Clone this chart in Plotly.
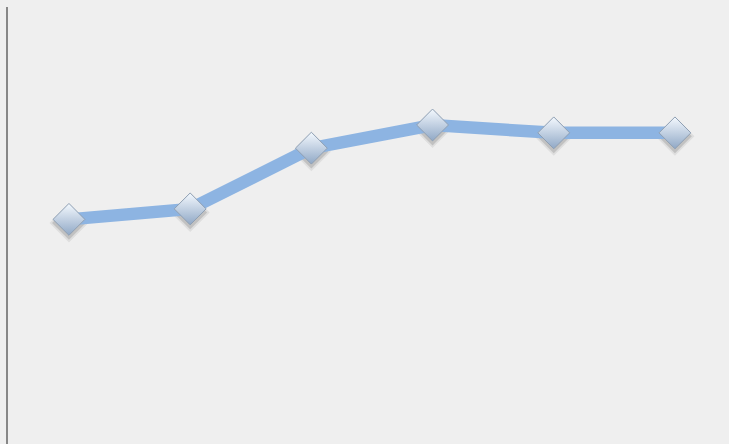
import plotly.graph_objects as go

categories = ["1", "2", "3", "4", "5", "6"]
values = [51.4, 53.8, 67.7, 73.0, 71.2, 71.2]

shadow_drop = 0.8  # shadow offset in data units (~3.5px)

fig = go.Figure()
# soft, blurred shadow below markers (two layers)
fig.add_trace(go.Scatter(
    x=categories, y=[v - shadow_drop for v in values], mode="markers",
    marker=dict(symbol="diamond", size=30, color="rgba(0,0,0,0.07)", line=dict(width=0)),
    hoverinfo="skip", showlegend=False,
))
fig.add_trace(go.Scatter(
    x=categories, y=[v - shadow_drop for v in values], mode="markers",
    marker=dict(symbol="diamond", size=26, color="rgba(0,0,0,0.13)", line=dict(width=0)),
    hoverinfo="skip", showlegend=False,
))
fig.add_trace(go.Scatter(
    x=categories, y=values, mode="lines",
    line=dict(color="#8db4e2", width=12.5),
    showlegend=False,
))
fig.add_trace(go.Scatter(
    x=categories, y=values, mode="markers",
    marker=dict(symbol="diamond", size=24.5, color="#f4f9fe",
                gradient=dict(type="vertical", color="#90a8c6"),
                line=dict(color="#8e9fb3", width=1)),
    showlegend=False,
))

fig.update_layout(
    width=729, height=444,
    margin=dict(l=8, r=0, t=7, b=0),
    paper_bgcolor="#efefef", plot_bgcolor="#efefef",
    xaxis=dict(type="category", range=[-0.503, 5.446], showgrid=False, zeroline=False,
               showticklabels=False, showline=False),
    yaxis=dict(range=[0, 100], showgrid=False, zeroline=False, showticklabels=False,
               showline=True, linecolor="#878787", linewidth=2),
)
fig.write_html("out.html", config={"displayModeBar": False},
               post_script="document.body.style.margin='0';document.body.style.background='#efefef';")
